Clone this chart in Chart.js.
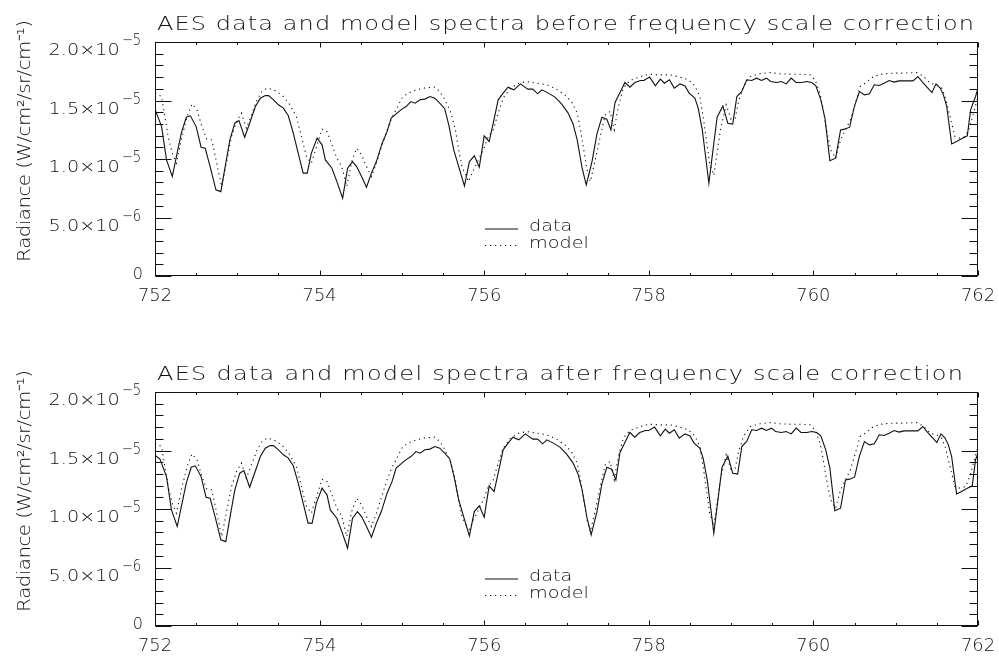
<!DOCTYPE html>
<html>
<head>
<meta charset="utf-8">
<title>AES data and model spectra</title>
<script src="https://cdn.jsdelivr.net/npm/chart.js@4.4.1/dist/chart.umd.min.js"></script>
<style>
  html, body { margin: 0; padding: 0; background: #fff; }
  #wrap { position: relative; width: 999px; height: 660px; }
  canvas { position: absolute; left: 0; }
  #topChart { top: 0; }
  #bottomChart { top: 350px; }
</style>
</head>
<body>
<div id="wrap">
  <canvas id="topChart" width="999" height="310"></canvas>
  <canvas id="bottomChart" width="999" height="310"></canvas>
</div>
<script>
// wavenumber in cm-1, radiance in units of 1e-6 W/cm2/sr/cm-1

// measured spectrum, original frequency scale
const dataWavenumber = [
  752.00, 752.08, 752.14, 752.21, 752.26, 752.32, 752.38, 752.43, 752.50, 752.56,
  752.61, 752.67, 752.74, 752.80, 752.86, 752.91, 752.97, 753.02, 753.09, 753.15,
  753.22, 753.28, 753.34, 753.38, 753.44, 753.50, 753.56, 753.62, 753.68, 753.74,
  753.80, 753.85, 753.90, 753.97, 754.03, 754.07, 754.15, 754.21, 754.28, 754.34,
  754.40, 754.45, 754.51, 754.57, 754.63, 754.69, 754.76, 754.82, 754.87, 754.94,
  755.00, 755.05, 755.11, 755.16, 755.22, 755.28, 755.34, 755.40, 755.46, 755.52,
  755.57, 755.63, 755.69, 755.76, 755.82, 755.88, 755.94, 756.00, 756.06, 756.11,
  756.17, 756.23, 756.29, 756.36, 756.44, 756.53, 756.59, 756.65, 756.70, 756.78,
  756.86, 756.94, 757.02, 757.08, 757.13, 757.19, 757.24, 757.31, 757.37, 757.43,
  757.49, 757.54, 757.59, 757.65, 757.71, 757.77, 757.83, 757.90, 757.94, 758.01,
  758.08, 758.14, 758.19, 758.25, 758.31, 758.38, 758.44, 758.49, 758.56, 758.60,
  758.65, 758.69, 758.73, 758.78, 758.83, 758.90, 758.96, 759.02, 759.07, 759.13,
  759.19, 759.25, 759.31, 759.37, 759.43, 759.48, 759.55, 759.61, 759.67, 759.73,
  759.79, 759.86, 759.92, 759.98, 760.03, 760.09, 760.14, 760.20, 760.27, 760.33,
  760.38, 760.44, 760.50, 760.56, 760.62, 760.68, 760.74, 760.80, 760.86, 760.92,
  760.98, 761.04, 761.11, 761.21, 761.27, 761.32, 761.38, 761.44, 761.49, 761.54,
  761.58, 761.62, 761.68, 761.74, 761.81, 761.87, 761.91, 761.97, 762.00
];
const dataRadiance = [
  14.26, 12.77, 9.92, 8.50, 10.21, 12.21, 13.57, 13.69, 12.77, 11.01,
  10.92, 9.35, 7.36, 7.21, 9.64, 11.63, 13.06, 13.29, 11.86, 13.06,
  14.48, 15.20, 15.42, 15.42, 15.06, 14.63, 14.35, 13.69, 12.21, 10.50,
  8.79, 8.79, 10.50, 11.78, 11.21, 9.92, 9.21, 8.07, 6.65, 9.21,
  9.78, 9.35, 8.50, 7.59, 8.79, 9.78, 11.35, 12.34, 13.49, 13.92,
  14.26, 14.48, 14.91, 14.77, 15.06, 15.12, 15.34, 15.20, 14.77, 14.30,
  12.90, 10.78, 9.35, 7.70, 9.78, 10.27, 9.30, 11.98, 11.49, 13.06,
  15.06, 15.63, 16.14, 15.91, 16.42, 15.97, 15.97, 15.57, 15.91, 15.63,
  15.29, 14.71, 13.92, 13.00, 11.63, 9.21, 7.78, 9.78, 12.15, 13.57,
  13.40, 12.49, 14.83, 15.68, 16.54, 16.14, 16.54, 16.71, 16.71, 17.00,
  16.25, 16.83, 16.48, 16.77, 16.06, 16.42, 16.25, 15.63, 15.20, 14.35,
  12.49, 10.21, 7.93, 10.78, 13.57, 14.54, 13.06, 12.98, 15.34, 15.77,
  16.77, 16.71, 16.91, 16.71, 16.91, 16.62, 16.54, 16.62, 16.42, 16.91,
  16.54, 16.54, 16.62, 16.54, 16.25, 15.06, 13.49, 9.86, 10.07, 12.49,
  12.55, 12.72, 14.54, 15.77, 15.48, 15.57, 16.34, 16.28, 16.48, 16.71,
  16.57, 16.68, 16.68, 16.68, 17.05, 16.62, 16.14, 15.68, 16.42, 16.06,
  15.48, 14.48, 11.29, 11.49, 11.78, 11.98, 14.20, 15.34, 16.05
];

// measured spectrum after the frequency scale correction
const dataWavenumberCorrected = [
  752.00,
  752.06, 752.14, 752.20, 752.27, 752.32, 752.38, 752.44, 752.49, 752.56, 752.62,
  752.67, 752.73, 752.80, 752.86, 752.92, 752.97, 753.03, 753.08, 753.15, 753.21,
  753.28, 753.34, 753.40, 753.44, 753.50, 753.56, 753.62, 753.68, 753.74, 753.80,
  753.86, 753.91, 753.96, 754.03, 754.09, 754.13, 754.21, 754.27, 754.34, 754.40,
  754.46, 754.51, 754.57, 754.63, 754.69, 754.75, 754.82, 754.88, 754.93, 755.00,
  755.06, 755.11, 755.17, 755.22, 755.28, 755.34, 755.40, 755.46, 755.52, 755.58,
  755.63, 755.69, 755.75, 755.82, 755.88, 755.94, 756.00, 756.06, 756.12, 756.17,
  756.23, 756.29, 756.35, 756.42, 756.50, 756.59, 756.65, 756.71, 756.76, 756.84,
  756.92, 757.00, 757.08, 757.14, 757.19, 757.25, 757.30, 757.37, 757.43, 757.49,
  757.55, 757.60, 757.65, 757.71, 757.77, 757.83, 757.89, 757.96, 758.00, 758.07,
  758.14, 758.20, 758.25, 758.31, 758.37, 758.44, 758.50, 758.55, 758.62, 758.66,
  758.71, 758.75, 758.79, 758.84, 758.89, 758.96, 759.02, 759.08, 759.13, 759.19,
  759.25, 759.31, 759.37, 759.43, 759.49, 759.54, 759.61, 759.67, 759.73, 759.79,
  759.85, 759.92, 759.98, 760.04, 760.09, 760.15, 760.20, 760.26, 760.33, 760.39,
  760.44, 760.50, 760.56, 760.62, 760.68, 760.74, 760.80, 760.86, 760.92, 760.98,
  761.04, 761.10, 761.17, 761.27, 761.33, 761.38, 761.44, 761.50, 761.55, 761.60,
  761.64, 761.68, 761.74, 761.80, 761.87, 761.93, 761.97, 762.03, 762.06
];
const dataRadianceCorrected = [14.60].concat(dataRadiance);

// model spectrum (same in both panels)
const modelWavenumber = [
  752.00, 752.08, 752.12, 752.16, 752.21, 752.26, 752.32, 752.39, 752.45, 752.51,
  752.57, 752.63, 752.69, 752.75, 752.81, 752.87, 752.93, 752.99, 753.05, 753.11,
  753.18, 753.24, 753.30, 753.36, 753.42, 753.48, 753.56, 753.64, 753.72, 753.78,
  753.84, 753.90, 753.97, 754.03, 754.09, 754.15, 754.21, 754.27, 754.33, 754.39,
  754.45, 754.51, 754.57, 754.63, 754.69, 754.76, 754.82, 754.88, 754.94, 755.00,
  755.06, 755.12, 755.18, 755.26, 755.34, 755.40, 755.46, 755.52, 755.59, 755.65,
  755.69, 755.73, 755.81, 755.87, 755.93, 755.99, 756.05, 756.11, 756.17, 756.23,
  756.32, 756.42, 756.52, 756.64, 756.76, 756.88, 756.98, 757.06, 757.13, 757.17,
  757.21, 757.25, 757.29, 757.35, 757.41, 757.47, 757.53, 757.58, 757.63, 757.69,
  757.77, 757.90, 758.00, 758.14, 758.26, 758.38, 758.48, 758.56, 758.62, 758.66,
  758.70, 758.74, 758.79, 758.83, 758.87, 758.94, 759.00, 759.05, 759.09, 759.15,
  759.23, 759.35, 759.47, 759.60, 759.72, 759.84, 759.96, 760.02, 760.08, 760.12,
  760.16, 760.21, 760.27, 760.33, 760.39, 760.45, 760.51, 760.57, 760.63, 760.73,
  760.85, 760.97, 761.10, 761.26, 761.34, 761.42, 761.50, 761.56, 761.60, 761.64,
  761.68, 761.72, 761.78, 761.85, 761.90, 761.95, 762.00
];
const modelRadiance = [
  15.60, 15.34, 13.63, 11.92, 10.50, 9.64, 11.63, 13.63, 14.71, 14.20,
  12.77, 11.69, 11.63, 9.64, 7.64, 9.78, 11.92, 13.20, 13.92, 12.63,
  13.92, 15.06, 15.77, 16.05, 15.97, 15.77, 15.34, 14.63, 13.57, 11.92,
  10.21, 9.64, 11.21, 12.55, 12.34, 11.21, 10.07, 9.35, 7.64, 9.78,
  10.92, 10.35, 9.35, 8.50, 9.64, 11.21, 12.49, 13.57, 14.35, 15.20,
  15.57, 15.77, 15.91, 16.05, 16.11, 16.14, 15.77, 15.10, 14.06, 12.49,
  10.78, 9.35, 8.07, 9.07, 9.92, 10.78, 11.92, 12.49, 13.92, 15.20,
  16.05, 16.48, 16.62, 16.48, 16.34, 15.97, 15.48, 14.91, 13.92, 12.49,
  10.78, 9.07, 8.07, 9.92, 11.92, 13.77, 14.06, 12.49, 14.48, 16.05,
  16.71, 17.05, 17.25, 17.19, 17.19, 17.00, 16.77, 16.25, 15.34, 13.63,
  11.63, 9.64, 8.60, 10.50, 12.49, 14.63, 13.40, 13.49, 14.91, 16.20,
  17.05, 17.28, 17.39, 17.28, 17.25, 17.25, 17.19, 16.77, 15.63, 14.20,
  12.49, 10.78, 10.07, 11.63, 12.49, 13.35, 14.77, 16.20, 16.48, 17.05,
  17.28, 17.34, 17.34, 17.39, 17.05, 16.48, 16.34, 16.05, 15.34, 14.20,
  13.06, 11.92, 11.78, 11.92, 12.77, 14.06, 15.34
];

// axes
const xTickValues = [752, 754, 756, 758, 760, 762];
const xTickLabels = ['752', '754', '756', '758', '760', '762'];
const yTickValues = [0, 5, 10, 15, 20];
const yTickMantissa = ['0', '5.0\u00d710', '1.0\u00d710', '1.5\u00d710', '2.0\u00d710'];
const yTickExponent = ['', '\u22126', '\u22125', '\u22125', '\u22125'];
const xMinorStep = 0.5;
const yMinorStep = 1;

const panelTitles = [
  'AES data and model spectra before frequency scale correction',
  'AES data and model spectra after frequency scale correction'
];
const yAxisTitle = 'Radiance (W/cm\u00b2/sr/cm\u207b\u00b9)';
const legendLabels = ['data', 'model'];

const INK = '#111';
const FONT = '"DejaVu Sans"';
const WEIGHT = '200';
const MODEL_DASH = [1.2, 3.8];

const toPoints = (xs, ys) => xs.map((x, i) => ({ x, y: ys[i] }));

// wide, thin lettering in the manner of the IDL vector font
function textWidth(ctx, text, sx, sp) {
  let w = 0;
  for (const ch of text) w += ctx.measureText(ch).width * sx + sp;
  return w - sp;
}

function drawText(ctx, text, x, y, sx, sp, align) {
  const w = textWidth(ctx, text, sx, sp);
  let cx = align === 'center' ? x - w / 2 : align === 'right' ? x - w : x;
  ctx.textAlign = 'left';
  for (const ch of text) {
    ctx.save();
    ctx.translate(cx, y);
    ctx.scale(sx, 1);
    ctx.fillText(ch, 0, 0);
    ctx.restore();
    cx += ctx.measureText(ch).width * sx + sp;
  }
}

const setFont = (ctx, px) => { ctx.font = `${WEIGHT} ${px}px ${FONT}`; };

// IDL style frame: boxed axes, inward ticks, labels
const idlFrame = {
  id: 'idlFrame',
  afterDraw(chart, args, opts) {
    const { ctx, chartArea: a, scales: { x, y } } = chart;
    const L = Math.round(a.left) + 0.5, R = Math.round(a.right) - 0.5;
    const T = Math.round(a.top) + 0.5, B = Math.round(a.bottom) - 0.5;
    ctx.save();
    ctx.strokeStyle = INK;
    ctx.fillStyle = INK;
    ctx.lineWidth = 1;
    ctx.strokeRect(L, T, R - L, B - T);

    ctx.beginPath();
    for (let v = x.min; v <= x.max + 1e-9; v += xMinorStep) {
      const px = Math.round(x.getPixelForValue(v)) + 0.5;
      const len = xTickValues.includes(v) ? 5 : 2.5;
      ctx.moveTo(px, B); ctx.lineTo(px, B - len);
      ctx.moveTo(px, T); ctx.lineTo(px, T + len);
    }
    for (let v = y.min; v <= y.max + 1e-9; v += yMinorStep) {
      const py = Math.round(y.getPixelForValue(v)) + 0.5;
      const len = yTickValues.includes(v) ? 16 : 8;
      ctx.moveTo(L, py); ctx.lineTo(L + len, py);
      ctx.moveTo(R, py); ctx.lineTo(R - len, py);
    }
    ctx.stroke();

    ctx.textBaseline = 'alphabetic';

    // x tick labels
    setFont(ctx, 17);
    xTickValues.forEach((v, i) => {
      drawText(ctx, xTickLabels[i], x.getPixelForValue(v), a.bottom + 25, 1.05, 0, 'center');
    });

    // y tick labels with raised exponent
    yTickValues.forEach((v, i) => {
      const py = y.getPixelForValue(v);
      if (!yTickExponent[i]) {
        setFont(ctx, 16);
        drawText(ctx, yTickMantissa[i], a.left - 12, py + 3, 1.0, 0, 'right');
        return;
      }
      setFont(ctx, 16);
      const ew = textWidth(ctx, yTickExponent[i], 0.82, 0);
      drawText(ctx, yTickExponent[i], a.left - 14 - ew, py + 3, 0.82, 0, 'left');
      drawText(ctx, yTickMantissa[i], a.left - 16 - ew, py + 13, 1.2, 0, 'right');
    });

    // panel title
    setFont(ctx, 20);
    const tSx = 1.2;
    const tSp = (opts.titleWidth - textWidth(ctx, opts.title, tSx, 0)) / (opts.title.length - 1);
    drawText(ctx, opts.title, 157, a.top - 12, tSx, tSp, 'left');

    // y axis title
    ctx.save();
    ctx.translate(30, a.top + 99);
    ctx.rotate(-Math.PI / 2);
    setFont(ctx, 18);
    const ySx = 1.1;
    const ySp = (242 - textWidth(ctx, yAxisTitle, ySx, 0)) / (yAxisTitle.length - 1);
    drawText(ctx, yAxisTitle, 0, 0, ySx, ySp, 'center');
    ctx.restore();

    // legend
    const lx0 = 485, lx1 = 518, tx = 529;
    const rows = [a.top + 187, a.top + 203.5];
    setFont(ctx, 16);
    rows.forEach((ry, i) => {
      ctx.beginPath();
      ctx.lineWidth = 1.1;
      ctx.setLineDash(i === 0 ? [] : MODEL_DASH);
      ctx.moveTo(lx0, ry); ctx.lineTo(lx1, ry);
      ctx.stroke();
      ctx.setLineDash([]);
      drawText(ctx, legendLabels[i], tx, ry + 2, 1.2, 0, 'left');
    });
    ctx.restore();
  }
};

function makePanel(canvasId, title, titleWidth, dataX, dataY) {
  return new Chart(document.getElementById(canvasId), {
    type: 'line',
    data: {
      datasets: [
        {
          label: legendLabels[0],
          data: toPoints(dataX, dataY),
          borderColor: INK,
          borderWidth: 1.1,
          pointRadius: 0,
          tension: 0,
          fill: false
        },
        {
          label: legendLabels[1],
          data: toPoints(modelWavenumber, modelRadiance),
          borderColor: INK,
          borderWidth: 1.1,
          borderDash: MODEL_DASH,
          pointRadius: 0,
          tension: 0,
          fill: false
        }
      ]
    },
    options: {
      responsive: false,
      animation: false,
      events: [],
      layout: { padding: { left: 155, right: 21, top: 42, bottom: 34 } },
      scales: {
        x: { type: 'linear', min: 752, max: 762, display: false },
        y: { type: 'linear', min: 0, max: 20, display: false }
      },
      plugins: {
        legend: { display: false },
        tooltip: { enabled: false },
        idlFrame: { title, titleWidth }
      }
    },
    plugins: [idlFrame]
  });
}

makePanel('topChart', panelTitles[0], 817, dataWavenumber, dataRadiance);
makePanel('bottomChart', panelTitles[1], 806, dataWavenumberCorrected, dataRadianceCorrected);
</script>
</body>
</html>
